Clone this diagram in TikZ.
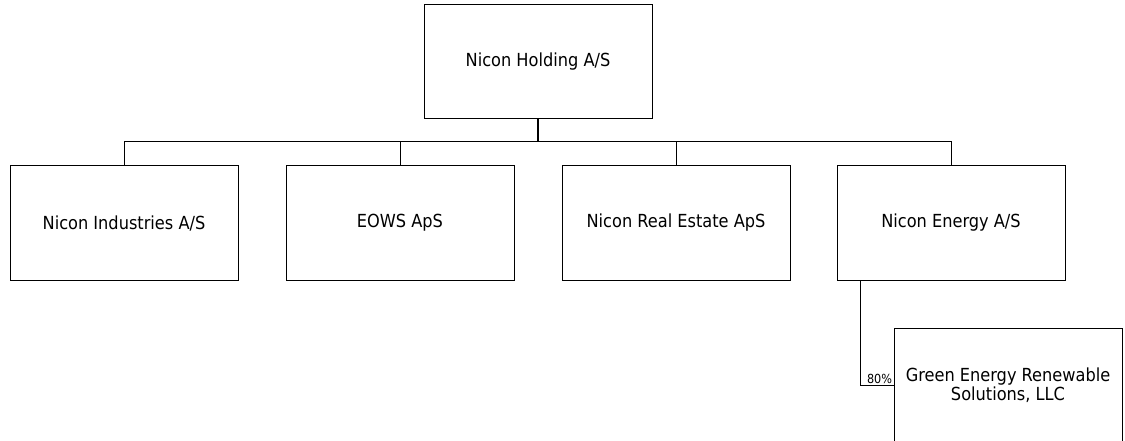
\documentclass[tikz,border=0pt]{standalone}
\usepackage{fontspec}
\setmainfont{DejaVu Sans Condensed}
\usetikzlibrary{positioning}
\begin{document}
\begin{tikzpicture}[x=1pt,y=-1pt,
        company/.style={draw,line width=1pt,minimum width=228pt,minimum height=114pt,
            align=center,font=\fontsize{18}{18.5}\selectfont,inner sep=2pt},
        link/.style={line width=1pt},
        share/.style={font=\fontsize{12.5}{14}\selectfont,anchor=south east,inner sep=1pt}]
	\useasboundingbox (0,0) rectangle (1125,441);

\node[company] (holding) at (538,61.5) {Nicon Holding A/S};
\node[company] (industries) at (124,223) {Nicon Industries A/S};
\node[company] (eows) at (400,223) {EOWS ApS};
\node[company] (realestate) at (676,223) {Nicon Real Estate ApS};
\node[company] (energy) at (951,223) {Nicon Energy A/S};
\node[company] (green) at (1008,385) {Green Energy Renewable\\Solutions, LLC};

	\coordinate (bus) at (538,141.5);
	\draw[link,line width=1.4pt] (holding.south) -- (bus);
\foreach \sub in {industries,eows,realestate,energy}
	\draw[link] (\sub.north) |- (bus);

	\draw[link] ([xshift=-91pt]energy.south) |- (green.west) node[share] {80\%};
\end{tikzpicture}
\end{document}
